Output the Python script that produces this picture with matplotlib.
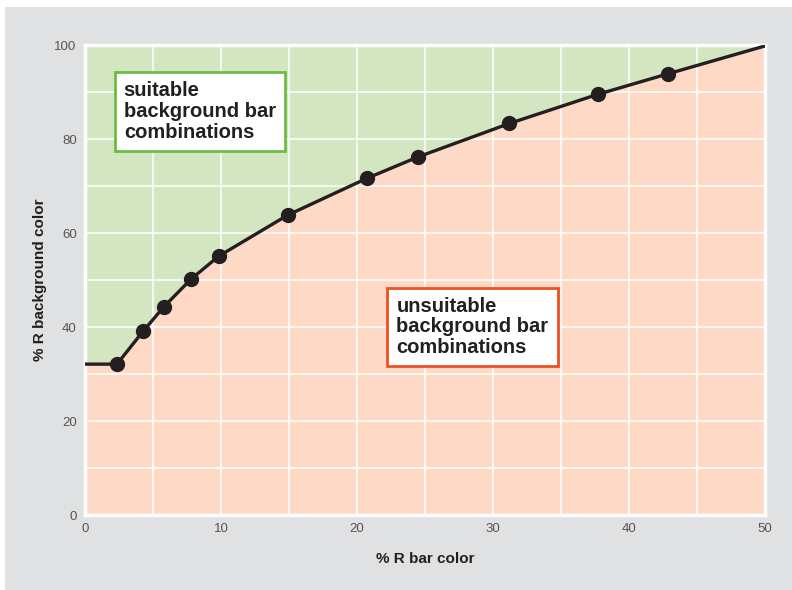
import matplotlib
matplotlib.use("Agg")
import matplotlib.pyplot as plt
from matplotlib.patches import Rectangle

plt.rcParams['font.family'] = ['Liberation Sans', 'DejaVu Sans']

# data
bar_R = [2.35, 4.3, 5.8, 7.8, 9.85, 14.9, 20.7, 24.5, 31.2, 37.7, 42.9]
bg_R = [32.1, 39.2, 44.3, 50.2, 55.1, 63.8, 71.6, 76.2, 83.3, 89.5, 93.9]
line_x = [0] + bar_R + [50]
line_y = [32.1] + bg_R + [99.8]
x_ticks = [0, 10, 20, 30, 40, 50]
y_ticks = [0, 20, 40, 60, 80, 100]

fig = plt.figure(figsize=(7.92, 5.90), dpi=100)
fig.patch.set_facecolor('white')
fig.patches.append(Rectangle((5/792, 0), 1, 1 - 7/590, transform=fig.transFigure,
                             facecolor='#e0e1e3', edgecolor='none', zorder=-10))

ax = fig.add_axes([85/792, 1 - 515/590, 680/792, 470/590])
ax.set_xlim(0, 50)
ax.set_ylim(0, 100)

green = '#d3e6c1'
salmon = '#fed9c6'
ax.fill_between(line_x, line_y, 100, color=green, zorder=0, linewidth=0)
ax.fill_between(line_x, 0, line_y, color=salmon, zorder=0, linewidth=0)

for gx in range(5, 50, 5):
    ax.axvline(gx, color='white', lw=1.1, zorder=1)
for gy in range(10, 100, 10):
    ax.axhline(gy, color='white', lw=1.1, zorder=1)

ax.plot(line_x, line_y, color='#231f20', lw=2.4, zorder=3, solid_capstyle='butt')
ax.plot(bar_R, bg_R, 'o', color='#231f20', markersize=10, zorder=4)

for s in ax.spines.values():
    s.set_color('white')
    s.set_linewidth(2.5)

ax.set_xticks(x_ticks)
ax.set_yticks(y_ticks)
ax.tick_params(length=0, labelsize=9.5, colors='#555555', pad=6)
ax.set_xlabel('% R bar color', fontsize=11, fontweight='bold', color='#231f20', labelpad=12)
ax.set_ylabel('% R background color', fontsize=11, fontweight='bold', color='#231f20', labelpad=5)

ax.text(2.85, 85.8, 'suitable\nbackground bar\ncombinations', fontsize=14.5, fontweight='bold',
        color='#231f20', va='center', ha='left', linespacing=1.12, zorder=5,
        bbox=dict(boxstyle='square,pad=0.45', facecolor='white', edgecolor='#6dbd45', linewidth=2))
ax.text(22.9, 40.0, 'unsuitable\nbackground bar\ncombinations', fontsize=14.5, fontweight='bold',
        color='#231f20', va='center', ha='left', linespacing=1.12, zorder=5,
        bbox=dict(boxstyle='square,pad=0.45', facecolor='white', edgecolor='#f04e23', linewidth=2))

fig.savefig('out.png', dpi=100, facecolor=fig.get_facecolor())
